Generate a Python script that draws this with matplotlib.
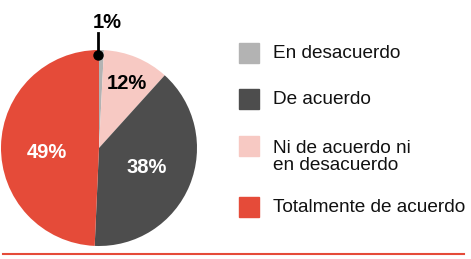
import matplotlib
matplotlib.use("Agg")
import matplotlib.pyplot as plt

# wedge order (clockwise from 12 o'clock)
categories = ["En desacuerdo", "Ni de acuerdo ni\nen desacuerdo", "De acuerdo", "Totalmente de acuerdo"]
pct_labels = ["1%", "12%", "38%", "49%"]
# wedge shares as drawn in the picture
shares = [0.8, 10.9, 39.0, 49.3]
colors = ["#b3b3b3", "#f7c9c3", "#4d4d4d", "#e54b39"]
legend_order = ["En desacuerdo", "De acuerdo", "Ni de acuerdo ni\nen desacuerdo", "Totalmente de acuerdo"]

W, H = 471, 259
fig = plt.figure(figsize=(W / 100, H / 100), dpi=100)
plt.rcParams['font.family'] = ['Liberation Sans', 'DejaVu Sans']

cx, cy, r = 99, 148, 98
ax = fig.add_axes([(cx - r) / W, (H - cy - r) / H, 2 * r / W, 2 * r / H])
ax.pie(shares, colors=colors, startangle=90, counterclock=False,
       wedgeprops=dict(linewidth=0), radius=1)
ax.set_xlim(-1, 1)
ax.set_ylim(-1, 1)
ax.set_aspect('equal')
ax.axis('off')

# label placements (data coords, radius=1)
lab_pos = [(0.08, 1.28), (0.28, 0.66), (0.49, -0.20), (-0.53, -0.05)]
lab_col = ["black", "black", "white", "white"]
for t, (x, y), c in zip(pct_labels, lab_pos, lab_col):
    ax.text(x, y, t, color=c, fontsize=14.5, fontweight='bold', ha='center', va='center',
            clip_on=False)
# leader line for 1%
ax.plot([-0.01, -0.01], [1.17, 0.95], color='black', lw=2, clip_on=False)
ax.plot([-0.01], [0.95], 'o', color='black', ms=6.5, clip_on=False)

# legend
col_map = dict(zip(categories, colors))
sq_tops = [43, 89, 136, 197]
text_y = [54, 99, 157, 208]
for name, top, ty in zip(legend_order, sq_tops, text_y):
    fig.patches.append(plt.Rectangle((239 / W, 1 - (top + 20) / H), 20 / W, 20 / H,
                                     transform=fig.transFigure, color=col_map[name]))
    fig.text(273 / W, 1 - ty / H, name, fontsize=13.7, ha='left', va='center',
             color='#111111', linespacing=1.02)

# bottom rule
fig.add_artist(plt.Line2D([3 / W, 464 / W], [1 - 254 / H, 1 - 254 / H],
                          transform=fig.transFigure, color='#e54b39', lw=1.5))

fig.savefig("out.png", dpi=100)
